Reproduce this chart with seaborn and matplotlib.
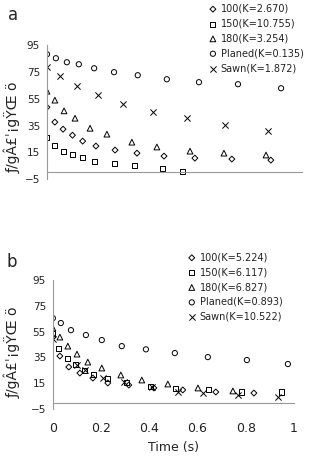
import numpy as np
import pandas as pd
import matplotlib
matplotlib.use("Agg")
import matplotlib.pyplot as plt
import seaborn as sns

sns.set_style("white")
plt.rcParams['font.family'] = ['DejaVu Sans']

# ---- panel a data (time in s, value) ----
a_100_x = [0, 0.031, 0.063, 0.10, 0.14, 0.192, 0.267, 0.353, 0.459, 0.58, 0.725, 0.878]
a_100_y = [48.7, 37.6, 32.3, 27.8, 23.4, 19.7, 16.7, 14.4, 12.2, 10.7, 10.0, 9.2]
a_150_x = [0, 0.031, 0.063, 0.10, 0.14, 0.188, 0.263, 0.345, 0.455, 0.533]
a_150_y = [26.4, 20.4, 16.0, 13.7, 11.4, 8.4, 7.0, 5.5, 3.2, 1.0]
a_180_x = [0, 0.031, 0.067, 0.11, 0.169, 0.235, 0.333, 0.431, 0.561, 0.694, 0.859]
a_180_y = [60.7, 54.0, 46.0, 40.5, 33.0, 28.6, 22.6, 19.0, 15.9, 14.4, 13.0]
a_planed_x = [0, 0.035, 0.078, 0.125, 0.185, 0.263, 0.356, 0.47, 0.596, 0.749, 0.918]
a_planed_y = [88.3, 85.3, 82.3, 80.8, 77.8, 74.9, 72.6, 69.6, 67.4, 65.9, 62.9]
a_sawn_x = [0, 0.051, 0.118, 0.20, 0.298, 0.415, 0.549, 0.698, 0.867]
a_sawn_y = [78.6, 71.9, 64.4, 57.7, 51.0, 45.0, 40.5, 35.3, 30.8]
a_labels = ['100(K=2.670)', '150(K=10.755)', '180(K=3.254)',
            'Planed(K=0.135)', 'Sawn(K=1.872)']

# ---- panel b data ----
b_100_x = [0, 0.029, 0.066, 0.112, 0.166, 0.228, 0.315, 0.419, 0.539, 0.676, 0.834]
b_100_y = [50.8, 36.1, 27.6, 22.9, 19.0, 15.2, 13.6, 11.3, 9.8, 8.2, 7.4]
b_150_x = [0, 0.025, 0.062, 0.095, 0.133, 0.17, 0.228, 0.307, 0.406, 0.51, 0.647, 0.784, 0.95]
b_150_y = [53.9, 42.3, 34.5, 29.9, 25.2, 22.1, 18.3, 15.2, 12.1, 11.3, 10.5, 8.2, 8.2]
b_180_x = [0, 0.029, 0.062, 0.10, 0.145, 0.203, 0.282, 0.369, 0.477, 0.602, 0.747]
b_180_y = [57.8, 50.8, 43.8, 37.6, 31.4, 26.8, 21.4, 17.5, 14.4, 11.3, 9.0]
b_planed_x = [0, 0.033, 0.075, 0.137, 0.203, 0.286, 0.386, 0.506, 0.643, 0.805, 0.975]
b_planed_y = [65.5, 61.7, 56.2, 52.4, 48.5, 43.8, 41.3, 38.4, 35.3, 33.0, 29.9]
b_sawn_x = [0, 0.10, 0.133, 0.21, 0.295, 0.41, 0.52, 0.622, 0.768, 0.935]
b_sawn_y = [49.0, 29.0, 25.0, 19.0, 16.0, 12.0, 8.5, 7.4, 5.9, 4.5]
b_labels = ['100(K=5.224)', '150(K=6.117)', '180(K=6.827)',
            'Planed(K=0.893)', 'Sawn(K=10.522)']

markers = ['D', 's', '^', 'o', 'x']
sizes = [9, 13, 17, 14, 20]
ylabel = "ƒ/gÂ£ˈ¡gŸŒ ö"
yticks = [-5, 15, 35, 55, 75, 95]
xticks = [0, 0.2, 0.4, 0.6, 0.8, 1]
xticklabels = ['0', '0.2', '0.4', '0.6', '0.8', '1']

fig = plt.figure(figsize=(3.11, 4.57), dpi=100)
ax_a = fig.add_axes([0.151, 0.608, 0.82, 0.293])
ax_b = fig.add_axes([0.170, 0.105, 0.775, 0.282])


def draw_panel(ax, xs, ys, labels, show_xlabels):
    for x, y, lab, m, s in zip(xs, ys, labels, markers, sizes):
        df = pd.DataFrame({'t': x, 'v': y})
        if m == 'x':
            sns.scatterplot(data=df, x='t', y='v', marker=m, s=s, color='black',
                            linewidth=0.7, label=lab, ax=ax)
        else:
            sns.scatterplot(data=df, x='t', y='v', marker=m, s=s, facecolor='none',
                            edgecolor='black', linewidth=0.7, label=lab, ax=ax)
    ax.set_xlim(0, 1)
    ax.set_ylim(-5, 95)
    ax.set_yticks(yticks)
    ax.set_xticks(xticks)
    ax.set_xlabel('')
    ax.set_ylabel('')
    for side in ['top', 'right']:
        ax.spines[side].set_visible(False)
    ax.spines['bottom'].set_position(('data', 0))
    for side in ['left', 'bottom']:
        ax.spines[side].set_color('#9a9a9a')
        ax.spines[side].set_linewidth(0.8)
    ax.tick_params(axis='y', direction='out', length=3, width=0.8, color='#9a9a9a',
                   labelsize=7.5, pad=2, labelcolor='#222222')
    if show_xlabels:
        ax.set_xticklabels(xticklabels)
        ax.tick_params(axis='x', direction='out', length=3, width=0.8, color='#9a9a9a',
                       labelsize=9, pad=11, labelcolor='#222222')
    else:
        ax.tick_params(axis='x', direction='out', length=3, width=0.8, color='#9a9a9a',
                       labelbottom=False)
    ax.get_legend().remove()


draw_panel(ax_a, [a_100_x, a_150_x, a_180_x, a_planed_x, a_sawn_x],
           [a_100_y, a_150_y, a_180_y, a_planed_y, a_sawn_y], a_labels, False)
draw_panel(ax_b, [b_100_x, b_150_x, b_180_x, b_planed_x, b_sawn_x],
           [b_100_y, b_150_y, b_180_y, b_planed_y, b_sawn_y], b_labels, True)

for ax, anchor in [(ax_a, (0.669, 0.994)), (ax_b, (0.601, 0.450))]:
    h, l = ax.get_legend_handles_labels()
    fig.legend(h, l, loc='upper left', bbox_to_anchor=anchor, frameon=False,
               fontsize=7, handlelength=0.8, handletextpad=0.4, labelspacing=0.5,
               borderpad=0.1, borderaxespad=0, labelcolor='#222222')

ax_b.set_xlabel('Time (s)', fontsize=9, labelpad=4, color='#222222')

fig.text(0.025, 0.967, 'a', fontsize=12, ha='left', va='center')
fig.text(0.022, 0.427, 'b', fontsize=12, ha='left', va='center')
fig.text(0.04, 1 - 127 / 457, ylabel, rotation=90, fontsize=10, ha='center', va='center',
         color='#222222')
fig.text(0.04, 1 - 352 / 457, ylabel, rotation=90, fontsize=10, ha='center', va='center',
         color='#222222')

fig.savefig('out.png', dpi=100)
